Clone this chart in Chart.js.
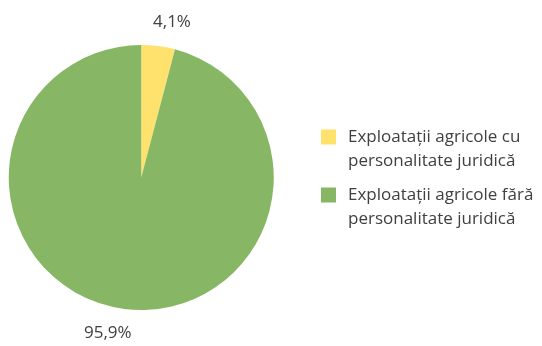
<!DOCTYPE html>
<html>
<head>
<meta charset="utf-8">
<script src="https://cdn.jsdelivr.net/npm/chart.js@4/dist/chart.umd.min.js"></script>
<style>
  html, body { margin: 0; padding: 0; background: #fff; }
  #wrap { width: 542px; height: 346px; position: relative; }
</style>
</head>
<body>
<div id="wrap"><canvas id="c" width="542" height="346"></canvas></div>
<script>
// Structura exploatațiilor agricole
const categories = [
  ['Exploatații agricole cu', 'personalitate juridică'],
  ['Exploatații agricole fără', 'personalitate juridică']
];
const shares = [4.1, 95.9];
const valueLabels = ['4,1%', '95,9%'];
const sliceColors = ['#FFE26D', '#87B765'];

const FONT = '"Open Sans", "Noto Sans", sans-serif';
const TEXT_COLOR = '#404040';

// Percent labels just outside each slice
const outsideLabels = {
  id: 'outsideLabels',
  afterDatasetsDraw(chart) {
    const ctx = chart.ctx;
    const meta = chart.getDatasetMeta(0);
    ctx.save();
    ctx.font = '17px ' + FONT;
    ctx.fillStyle = TEXT_COLOR;
    ctx.textBaseline = 'middle';
    ctx.textAlign = 'center';
    meta.data.forEach((arc, i) => {
      const mid = (arc.startAngle + arc.endAngle) / 2;
      const d = arc.outerRadius + 24;
      const w = ctx.measureText(valueLabels[i]).width;
      const dx = Math.cos(mid), dy = Math.sin(mid);
      const x = arc.x + d * dx + Math.sign(dx) * w * 0.28;
      const y = arc.y + d * dy;
      ctx.fillText(valueLabels[i], x, y);
    });
    ctx.restore();
  }
};

// Legend on the right with wrapped labels
const sideLegend = {
  id: 'sideLegend',
  afterDraw(chart) {
    const ctx = chart.ctx;
    const left = 321, box = 15, textX = 348, lineH = 24;
    const starts = [137, 195];
    ctx.save();
    ctx.font = '17px ' + FONT;
    ctx.fillStyle = TEXT_COLOR;
    ctx.textBaseline = 'middle';
    ctx.textAlign = 'left';
    chart.data.labels.forEach((lines, i) => {
      ctx.fillStyle = chart.data.datasets[0].backgroundColor[i];
      ctx.fillRect(left, starts[i] - box / 2, box, box);
      ctx.fillStyle = TEXT_COLOR;
      lines.forEach((t, k) => ctx.fillText(t, textX, starts[i] + k * lineH));
    });
    ctx.restore();
  }
};

new Chart(document.getElementById('c'), {
  type: 'pie',
  data: {
    labels: categories,
    datasets: [{
      data: shares,
      backgroundColor: sliceColors,
      borderWidth: 0
    }]
  },
  options: {
    responsive: false,
    animation: false,
    layout: { padding: { left: 8.5, right: 268, top: 45, bottom: 36 } },
    plugins: {
      legend: { display: false },
      tooltip: { enabled: false }
    }
  },
  plugins: [outsideLabels, sideLegend]
});
</script>
</body>
</html>
